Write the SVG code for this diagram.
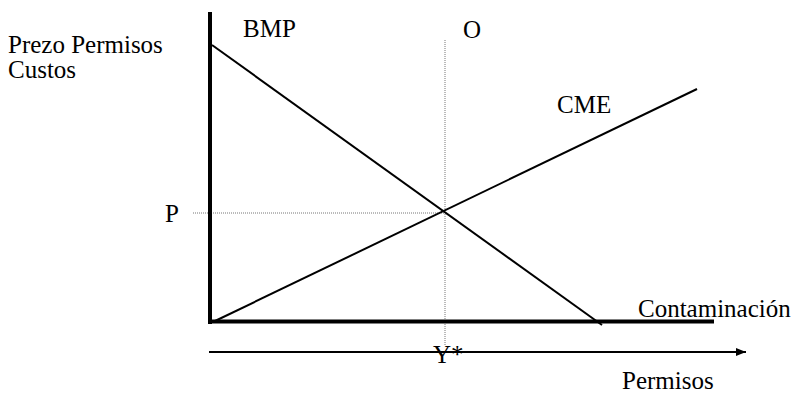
<svg xmlns="http://www.w3.org/2000/svg" width="798" height="394" viewBox="0 0 798 394">
<defs>
<style>
.t{font-family:"Times New Roman","Liberation Serif",Times,serif;font-size:25px;fill:#000}
.ax{stroke:#000;stroke-width:4;fill:none}
.ln{stroke:#000;stroke-width:2;fill:none}
.dot{stroke:#777;stroke-width:1;stroke-dasharray:1 1;fill:none}
</style>
<marker id="ah" viewBox="0 0 10 10" refX="10" refY="5" markerWidth="10" markerHeight="10" markerUnits="userSpaceOnUse" orient="auto">
<path d="M0,1 L10,5 L0,9 z" fill="#000"/>
</marker>
</defs>
<g id="connectors">
<line class="dot" x1="445" y1="40" x2="445" y2="345"/>
<line class="dot" x1="193" y1="213" x2="445" y2="213"/>
<line class="ax" x1="210" y1="12" x2="210" y2="324"/>
<line class="ax" x1="208" y1="321.5" x2="714" y2="321.5"/>
<line class="ln" x1="212" y1="45" x2="602" y2="325"/>
<line class="ln" x1="215" y1="321" x2="697" y2="89"/>
<line class="ln" x1="209" y1="352" x2="746" y2="352" marker-end="url(#ah)"/>
</g>
<g id="label-y"><text class="t" x="8" y="53">Prezo Permisos</text><text class="t" x="8" y="78">Custos</text></g>
<g id="label-bmp"><text class="t" x="243" y="37">BMP</text></g>
<g id="label-o"><text class="t" x="463" y="38">O</text></g>
<g id="label-cme"><text class="t" x="557" y="113">CME</text></g>
<g id="label-p"><text class="t" x="165" y="222">P</text></g>
<g id="label-cont"><text class="t" x="638" y="317">Contaminación</text></g>
<g id="label-ystar"><text class="t" x="433" y="363">Y*</text></g>
<g id="label-permisos"><text class="t" x="622" y="389">Permisos</text></g>
</svg>
